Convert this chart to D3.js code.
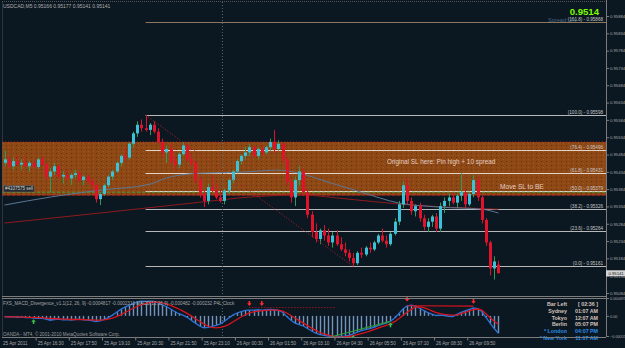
<!DOCTYPE html>
<html>
<head>
<meta charset="utf-8">
<script src="https://cdn.jsdelivr.net/npm/d3@7"></script>
<style>
  body { margin: 0; background: #0b1721; }
  svg { display: block; font-family: "Liberation Sans", Arial, sans-serif; }
</style>
</head>
<body>
<svg id="chart" width="625" height="348"></svg>
<script>
////////////////////////////////////////////////////////////////////////
// Data (prices in pips above 0.9500, one bar = 10 minutes)

const symbolName = "USDCAD,M5";

let barOpen = [46,47,45,46.5,45.5,46,45,46,44.8,47, 45.5,42,43.5,45,42,42.5,41.5,42.5,43,41,
  42,40.5,39.5,35.5,37,39.5,42,43.5,46,48, 47.5,51.5,54.5,57,56,55.5,57,55,52,49,
  50,46.5,45.5,48.5,51,47,46,41,37,35, 39,38,36,35,38,41,43.5,46.5,48,49,
  50.5,48,50,49,50.5,52,50,51.5,47,40.5, 36,41,43.5,37.5,31,26,24,26.5,25,23,
  25,22.5,21,20,18.5,17,20,19.5,21.5,21, 23,25,23.5,22.5,25.5,29,34,39.5,35,32,
  33.5,30,27.5,29,30.5,27,33.5,35,36,34.5, 36.5,37.5,34,37,41,36,29.5,23,15.5,16.6];
let barHigh = [49.5,48,47.5,48,47,47.5,46.5,47,47.5,48, 46,44.5,46,45.5,43.5,44,43,44,43.5,42.5,
  42.5,41.5,40,37.5,40,42.5,44,46.5,48.5,50.5, 52,55,58,58.5,59.8,57.5,58,56,53,51,
  51.5,48,49,52,51.5,48.5,46.5,42,38,40, 42.5,40,38,38.5,41.5,44,47,48.5,50.5,51.5,
  51,50.5,51,51,53,55.5,52.5,52,47.5,41.5, 42,45,44.5,38.5,32,28.5,27,28,27,26,
  26.5,24.5,23,21,20,20.5,21.5,22,23,23.5, 25.5,27,25,26,30,35,40.5,41.5,36,34,
  34.5,31,30,31,31.5,34.5,36,37,37.5,37, 43,38.5,37.5,42.5,42,36.5,30,23.5,19,17.7];
let barLow = [45,44.5,44,45,44,45,43.5,44.5,44.2,45, 41,37.5,42.5,41.5,40,41,39.5,41.5,40.5,39.5,
  40,38.5,34.5,33.8,36.5,39,41,43,45,46.5, 47,50.5,53.5,55,55,54,54.5,51.5,47.5,46,
  45.5,44,44.5,48,46.5,45,40,36,33.2,34, 37.5,35.5,34.5,34,37,40,43,45.5,47,48,
  47.5,47,48,48.5,49.5,49,49.5,46,39.5,34.5, 33.5,39.5,36.5,30,24.5,23,22.5,23.5,22,21.5,
  22,20.5,19,17.5,16.1,16.5,18.5,19,20,20.5, 22.5,23,21.5,22,25,28,33,34,31,30.5,
  29,26.5,26,27.5,26,26,31.5,33.5,34,33, 35,33,33.5,36,35,28.5,22,13.5,12.3,14.1];
let barClose = [47,45,46.5,45.5,46,45,46,44.8,47,45.5, 42,43.5,45,42,42.5,41.5,42.5,43,41,42,
  40.5,39.5,35.5,37,39.5,42,43.5,46,48,47.5, 51.5,54.5,57,56,55.5,57,55,52,49,50,
  46.5,45.5,48.5,51,47,46,41,37,35,39, 38,36,35,38,41,43.5,46.5,48,49,50.5,
  48,50,49,50.5,52,50,51.5,47,40.5,36, 41,43.5,37.5,31,26,24,26.5,25,23,25,
  22.5,21,20,18.5,17,20,19.5,21.5,21,23, 25,23.5,22.5,25.5,29,34,39.5,35,32,33.5,
  30,27.5,29,30.5,27,33.5,35,36,34.5,36.5, 37.5,34,37,41,36,29.5,23,15.5,17.5,14.1];

// moving averages: [bar, pips]
let maSlate = [[0,33.8],[11,36.1],[23,38.1],[35,39.8],[39,41.6],[47,43],[57,43.3],[66,43.9],
  [71,43],[78,40.4],[86,37.5],[95,34.4],[105,33.2],[115,32.6],[119,31.5]];
let maRed = [[0,28.6],[23,31.5],[47,34.6],[59,36.1],[71,36.7],[83,35.5],[95,34.1],[107,33.2],[119,32.6]];

// MACD (units of 0.0001)
let macdMain = [-0.2,-0.3,-0.2,-0.4,-0.3,-0.5,-0.4,-0.6,-0.7,-0.6, -0.9,-1.2,-1.0,-0.9,-1.1,-1.0,-1.2,-1.0,-0.9,-1.1,
  -1.2,-1.3,-1.6,-1.4,-1.0,-0.5,0.2,1.0,1.8,2.4, 2.9,3.4,3.9,4.1,4.0,4.1,4.0,3.6,3.0,2.6,
  1.9,1.2,0.6,0.2,-0.4,-1.2,-2.0,-2.8,-3.3,-3.2, -2.9,-2.6,-2.2,-1.5,-0.6,0.2,0.8,1.2,1.5,1.6,
  1.6,1.7,1.6,1.7,1.8,1.7,1.5,1.0,-0.2,-1.2, -2.0,-2.4,-2.8,-3.5,-4.2,-4.8,-5.2,-5.4,-5.6,-5.7,
  -5.8,-5.7,-5.6,-5.4,-5.0,-4.5,-4.1,-3.8,-3.5,-3.2, -2.7,-2.3,-2.0,-1.5,-0.6,0.6,1.9,2.8,3.0,2.7,
  2.1,1.5,0.9,0.5,0.1,0.2,0.1,-0.1,-0.2,0.4, 1.0,1.4,1.8,2.2,2.0,1.2,-0.4,-2.0,-3.5,-4.82];
let macdSignal = [-0.3,-0.3,-0.3,-0.3,-0.3,-0.4,-0.4,-0.4,-0.5,-0.5, -0.6,-0.7,-0.8,-0.8,-0.9,-0.9,-1.0,-1.0,-1.0,-1.0,
  -1.1,-1.1,-1.2,-1.2,-1.1,-0.9,-0.6,-0.2,0.3,0.9, 1.5,2.1,2.6,3.1,3.4,3.7,3.8,3.8,3.6,3.3,
  2.9,2.4,1.9,1.3,0.7,0.0,-0.8,-1.5,-2.2,-2.8, -3.2,-3.3,-3.2,-2.9,-2.4,-1.7,-1.0,-0.3,0.3,0.8,
  1.1,1.3,1.4,1.5,1.6,1.6,1.6,1.3,0.8,0.1, -0.6,-1.3,-2.0,-2.7,-3.4,-4.0,-4.6,-5.0,-5.3,-5.6,
  -5.8,-5.9,-5.8,-5.7,-5.5,-5.2,-4.9,-4.6,-4.2,-3.8, -3.4,-3.0,-2.6,-2.2,-1.6,-0.8,0.1,1.0,1.8,2.4,
  2.5,2.3,1.9,1.4,0.9,0.6,0.4,0.3,0.2,0.3, 0.6,1.0,1.4,1.7,1.9,1.6,0.6,-0.5,-1.5,-2.32];
let sellArrows = [59, 62, 97, 113];
let buyArrows = [7, 84, 93];

// fibonacci retracement
let fibLevels = [161.8, 100.0, 76.4, 61.8, 50.0, 38.2, 23.6, 0.0];
let fibPrices = [0.95868, 0.95598, 0.95496, 0.95431, 0.95379, 0.95326, 0.95264, 0.95161];
let fibStartBar = 34;

let priceTicks = [0.95884,0.95834,0.95784,0.95734,0.95684,0.95634,0.95584,0.95534,0.95484,
  0.95434,0.95384,0.95334,0.95284,0.95234,0.95184,0.95134,0.95084];
let macdTicks = [0.000495, 0, -0.000557];
let timeTicks = ["2011-04-25 16:30","2011-04-25 17:50","2011-04-25 19:10","2011-04-25 20:30",
  "2011-04-25 21:50","2011-04-25 23:10","2011-04-26 00:30","2011-04-26 01:50","2011-04-26 03:10",
  "2011-04-26 04:30","2011-04-26 05:50","2011-04-26 07:10","2011-04-26 08:30","2011-04-26 09:50"];

let zoneTop = 0.95520, zoneBottom = 0.95366;
let orderPrice = 0.95375, slPrice = 0.95367;

let clockNames = ["Bar Left", "Sydney", "Tokyo", "Berlin", "* London", "* New York"];
let clockTimes = ["[ 02:36 ]", "01:07 AM", "12:07 AM", "05:07 PM", "04:07 PM", "11:07 AM"];

////////////////////////////////////////////////////////////////////////
// Scales

const svg = d3.select("#chart");
const left = 2, right = 606, mainBottom = 296, indTop = 298, indBottom = 337;
const toPrice = p => 0.95 + p / 10000;

const parseTime = d3.timeParse("%Y-%m-%d %H:%M");
const start = parseTime("2011-04-25 15:15");
const barTime = i => d3.timeMinute.offset(start, 10 * i);

let xScale = d3.scaleTime().domain([start, barTime(119)]).range([4.5, 498.4]);
let yScale = d3.scaleLinear().domain([0.95084, 0.95884]).range([293, 16]);
let mScale = d3.scaleLinear().domain([-0.000557, 0.000495]).range([336, 298]);
const bx = i => xScale(barTime(i));

svg.append("rect").attr("width", 625).attr("height", 348).attr("fill", "#0b1721");

let defs = svg.append("defs");
defs.append("clipPath").attr("id", "clipMain").append("rect")
  .attr("x", left).attr("y", 2).attr("width", right - left).attr("height", mainBottom - 2);
defs.append("clipPath").attr("id", "clipInd").append("rect")
  .attr("x", left).attr("y", indTop).attr("width", right - left).attr("height", indBottom - indTop);
let pat = defs.append("pattern").attr("id", "zoneDots")
  .attr("width", 5).attr("height", 4).attr("patternUnits", "userSpaceOnUse");
pat.append("rect").attr("width", 5).attr("height", 4).attr("fill", "#8e4816");
pat.append("rect").attr("x", 1).attr("y", 1).attr("width", 1).attr("height", 1).attr("fill", "#64300e");
pat.append("rect").attr("x", 3).attr("y", 3).attr("width", 1).attr("height", 1).attr("fill", "#a2561c");

////////////////////////////////////////////////////////////////////////
// Main price window

let main = svg.append("g").attr("clip-path", "url(#clipMain)");

main.append("rect")
  .attr("x", left).attr("width", right - left)
  .attr("y", yScale(zoneTop)).attr("height", yScale(zoneBottom) - yScale(zoneTop))
  .attr("fill", "url(#zoneDots)");
main.append("line")
  .attr("x1", left).attr("x2", right)
  .attr("y1", yScale(zoneTop)).attr("y2", yScale(zoneTop))
  .attr("stroke", "#c0282a").attr("stroke-dasharray", "1,2");

// day separator
let daySep = bx(52.5);
svg.append("line")
  .attr("x1", daySep).attr("x2", daySep).attr("y1", 2).attr("y2", indBottom)
  .attr("stroke", "#52706e").attr("stroke-dasharray", "1,2");

// fibonacci lines
let fibX = bx(fibStartBar);
fibLevels.forEach((lvl, k) => {
  let y = Math.round(yScale(fibPrices[k])) + 0.5;
  main.append("line")
    .attr("x1", fibX).attr("x2", right).attr("y1", y).attr("y2", y)
    .attr("stroke", k === 0 ? "#8c7660" : (k >= 2 && k <= 4 ? "#e2d4c6" : "#b8b8b8"))
    .attr("stroke-width", 1);
});

// order lines
main.append("line").attr("x1", left).attr("x2", right)
  .attr("y1", yScale(orderPrice)).attr("y2", yScale(orderPrice))
  .attr("stroke", "#3e9a3a").attr("stroke-dasharray", "3,2");
main.append("line").attr("x1", left).attr("x2", right)
  .attr("y1", yScale(slPrice)).attr("y2", yScale(slPrice))
  .attr("stroke", "#c02026").attr("stroke-dasharray", "3,2");

// moving averages
let maLine = d3.line().x(d => bx(d[0])).y(d => yScale(toPrice(d[1]))).curve(d3.curveMonotoneX);
main.append("path").datum(maRed).attr("d", maLine)
  .attr("fill", "none").attr("stroke", "#8e1a1e").attr("stroke-width", 1);
main.append("path").datum(maSlate).attr("d", maLine)
  .attr("fill", "none").attr("stroke", "#5a7896").attr("stroke-width", 1);

// candles
let bars = d3.range(barOpen.length).map(i => ({
  i: i, o: toPrice(barOpen[i]), h: toPrice(barHigh[i]), l: toPrice(barLow[i]), c: toPrice(barClose[i])
}));
let candle = main.append("g").selectAll("g").data(bars).enter().append("g");
candle.append("line")
  .attr("x1", d => Math.round(bx(d.i)) + 0.5).attr("x2", d => Math.round(bx(d.i)) + 0.5)
  .attr("y1", d => yScale(d.h)).attr("y2", d => yScale(d.l))
  .attr("stroke", d => d.c >= d.o ? "#2f9a5c" : "#d8142c");
candle.append("rect")
  .attr("x", d => Math.round(bx(d.i)) - 1)
  .attr("width", 3)
  .attr("y", d => yScale(Math.max(d.o, d.c)))
  .attr("height", d => Math.max(1, Math.abs(yScale(d.o) - yScale(d.c))))
  .attr("fill", d => d.c >= d.o ? "#3cc2d8" : "#e0122c");

// zigzag from pin high to low
main.append("line")
  .attr("x1", bx(34)).attr("y1", yScale(toPrice(barHigh[34])))
  .attr("x2", bx(84)).attr("y2", yScale(toPrice(barLow[84])))
  .attr("stroke", "#c0202a").attr("stroke-dasharray", "1,2");

// fib labels
fibLevels.forEach((lvl, k) => {
  svg.append("text")
    .attr("x", 603).attr("y", yScale(fibPrices[k]) - 1)
    .attr("text-anchor", "end").attr("font-size", 4.6).attr("fill", "#c8c8c8")
    .text("(" + lvl.toFixed(1) + ") - " + fibPrices[k].toFixed(5));
});

// annotations
main.append("text").attr("x", 387).attr("y", 163.5)
  .attr("font-size", 6.4).attr("fill", "#e4cfc0")
  .text("Original SL here: Pin high + 10 spread");
main.append("text").attr("x", 500).attr("y", 188.5)
  .attr("font-size", 6.6).attr("fill", "#e4cfc0")
  .text("Move SL to BE");

main.append("rect").attr("x", 3.5).attr("y", 185.5).attr("width", 31).attr("height", 6.5)
  .attr("fill", "#262a2e").attr("stroke", "#707070").attr("stroke-width", 0.5);
main.append("text").attr("x", 5).attr("y", 190.3)
  .attr("font-size", 4.5).attr("fill", "#d8d8d8").text("#4107575 sell");

svg.append("text").attr("x", 3).attr("y", 7.5)
  .attr("font-size", 5).attr("fill", "#b0b0b0")
  .text(symbolName + "  " + [barOpen, barHigh, barLow, barClose]
    .map(a => toPrice(a[a.length - 1]).toFixed(5)).join(" "));

svg.append("text").attr("x", 548).attr("y", 21.5)
  .attr("font-size", 5.6).attr("fill", "#456585").text("Spread: 2.0");
svg.append("text").attr("x", 599).attr("y", 14.5).attr("text-anchor", "end")
  .attr("font-size", 9.6).attr("font-weight", "bold").attr("fill", "#7cfc00")
  .text(toPrice(barClose[barClose.length - 1]).toFixed(4));

////////////////////////////////////////////////////////////////////////
// MACD window

let ind = svg.append("g").attr("clip-path", "url(#clipInd)");
ind.append("g").selectAll("line").data(macdMain).enter().append("line")
  .attr("x1", (d, i) => Math.round(bx(i)) + 0.5).attr("x2", (d, i) => Math.round(bx(i)) + 0.5)
  .attr("y1", mScale(0)).attr("y2", d => mScale(d / 10000))
  .attr("stroke", "#7494bc").attr("stroke-width", 1.4);

let mLine = d3.line().x((d, i) => bx(i)).y(d => mScale(d / 10000));
ind.append("path").datum(macdMain).attr("d", mLine)
  .attr("fill", "none").attr("stroke", "#2f72d6").attr("stroke-width", 1.3);
ind.append("path").datum(macdSignal).attr("d", mLine)
  .attr("fill", "none").attr("stroke", "#d8141e").attr("stroke-width", 1.3);

// divergence lines
ind.append("line")
  .attr("x1", bx(59)).attr("x2", bx(80))
  .attr("y1", mScale(0.00023)).attr("y2", mScale(0.00023))
  .attr("stroke", "#d8141e").attr("stroke-dasharray", "1,2");
ind.append("line")
  .attr("x1", bx(97)).attr("x2", bx(113))
  .attr("y1", mScale(macdMain[97] / 10000)).attr("y2", mScale(macdMain[113] / 10000 + 0.00005))
  .attr("stroke", "#d8141e").attr("stroke-width", 1.2);
ind.append("line")
  .attr("x1", bx(79)).attr("x2", bx(93))
  .attr("y1", mScale(macdMain[79] / 10000)).attr("y2", mScale(macdMain[93] / 10000))
  .attr("stroke", "#2e9a3a").attr("stroke-width", 1.2);

const arrowDown = "M-0.8,-3 h1.6 v2.2 h1.5 l-2.3,2.6 l-2.3,-2.6 h1.5 z";
svg.append("g").selectAll("path").data(sellArrows).enter().append("path")
  .attr("transform", i => "translate(" + bx(i) + "," + (mScale(macdMain[i] / 10000) - 6) + ")")
  .attr("d", arrowDown).attr("fill", "#ff2a2a");
ind.append("g").selectAll("path").data(buyArrows).enter().append("path")
  .attr("transform", i => "translate(" + bx(i) + "," + (mScale(macdMain[i] / 10000) + 3) + ") scale(1,-1)")
  .attr("d", arrowDown).attr("fill", "#36c04a");

svg.append("text").attr("x", 3).attr("y", 304.5)
  .attr("font-size", 4.6).attr("fill", "#a6a6a6")
  .text("FXS_MACD_Divergence_v1.1(12, 26, 9) -0.0004817 -0.0002316   MACD(12,26,9) -0.000482 -0.000232   P4L Clock");
svg.append("text").attr("x", 3).attr("y", 335.5)
  .attr("font-size", 4.6).attr("fill", "#9c9c9c")
  .text("OANDA - MT4, \u00a9 2001-2010 MetaQuotes Software Corp.");

// clock
clockNames.forEach((name, k) => {
  let col = k >= 4 ? "#2a8ee8" : "#d6c4bc";
  let y = 306 + k * 6.8;
  svg.append("text").attr("x", 567).attr("y", y).attr("text-anchor", "end")
    .attr("font-size", 5.3).attr("font-weight", "bold").attr("fill", col).text(name);
  svg.append("text").attr("x", 598).attr("y", y).attr("text-anchor", "end")
    .attr("font-size", 5.3).attr("font-weight", "bold").attr("fill", col).text(clockTimes[k]);
});

////////////////////////////////////////////////////////////////////////
// Frames and axes

let frameCol = "#7c7c7c";
svg.append("line").attr("x1", left).attr("x2", right).attr("y1", 1.5).attr("y2", 1.5)
  .attr("stroke", "#555").attr("stroke-dasharray", "1,1");
svg.append("line").attr("x1", left + 0.5).attr("x2", left + 0.5).attr("y1", 1.5).attr("y2", indBottom)
  .attr("stroke", "#555").attr("stroke-dasharray", "1,1");
svg.append("line").attr("x1", right + 0.5).attr("x2", right + 0.5).attr("y1", 0).attr("y2", indBottom)
  .attr("stroke", frameCol);
[mainBottom + 0.5, indTop + 0.5, indBottom + 0.5].forEach(y => {
  svg.append("line").attr("x1", left).attr("x2", right).attr("y1", y).attr("y2", y)
    .attr("stroke", frameCol);
});

let yAxis = d3.axisRight(yScale).tickValues(priceTicks).tickSize(2.5).tickPadding(1)
  .tickFormat(d3.format(".5f"));
let gy = svg.append("g").attr("transform", "translate(" + (right + 0.5) + ",0)").call(yAxis);
gy.select(".domain").remove();
gy.selectAll("line").attr("stroke", frameCol);
gy.selectAll("text").attr("font-size", 4.2).attr("fill", "#a8a8a8").attr("font-family", null);

let mAxis = d3.axisRight(mScale).tickValues(macdTicks).tickSize(2.5).tickPadding(1)
  .tickFormat(d => d === 0 ? "0.00" : d3.format(".6f")(d));
let gm = svg.append("g").attr("transform", "translate(" + (right + 0.5) + ",0)").call(mAxis);
gm.select(".domain").remove();
gm.selectAll("line").attr("stroke", frameCol);
gm.selectAll("text").attr("font-size", 3.8).attr("fill", "#a8a8a8").attr("font-family", null);

// current price label
let lastY = yScale(toPrice(barClose[barClose.length - 1]));
svg.append("rect").attr("x", 606).attr("y", lastY - 3).attr("width", 19).attr("height", 6)
  .attr("fill", "#d4d4d4");
svg.append("text").attr("x", 608.5).attr("y", lastY + 1.6)
  .attr("font-size", 4.2).attr("fill", "#101010")
  .text(toPrice(barClose[barClose.length - 1]).toFixed(5));

let xAxis = d3.axisBottom(xScale).tickValues(timeTicks.map(parseTime)).tickSize(3).tickPadding(1.5)
  .tickFormat(d3.timeFormat("%d %b %H:%M"));
let gx = svg.append("g").attr("transform", "translate(0," + (indBottom + 0.5) + ")").call(xAxis);
gx.select(".domain").remove();
gx.selectAll("line").attr("stroke", frameCol);
gx.selectAll("text").attr("font-size", 4.6).attr("fill", "#a8a8a8").attr("font-family", null)
  .attr("text-anchor", "start").attr("x", 1.5);
svg.append("text").attr("x", 3).attr("y", indBottom + 8)
  .attr("font-size", 4.6).attr("fill", "#a8a8a8")
  .text(d3.timeFormat("%d %b %Y")(start));
</script>
</body>
</html>
